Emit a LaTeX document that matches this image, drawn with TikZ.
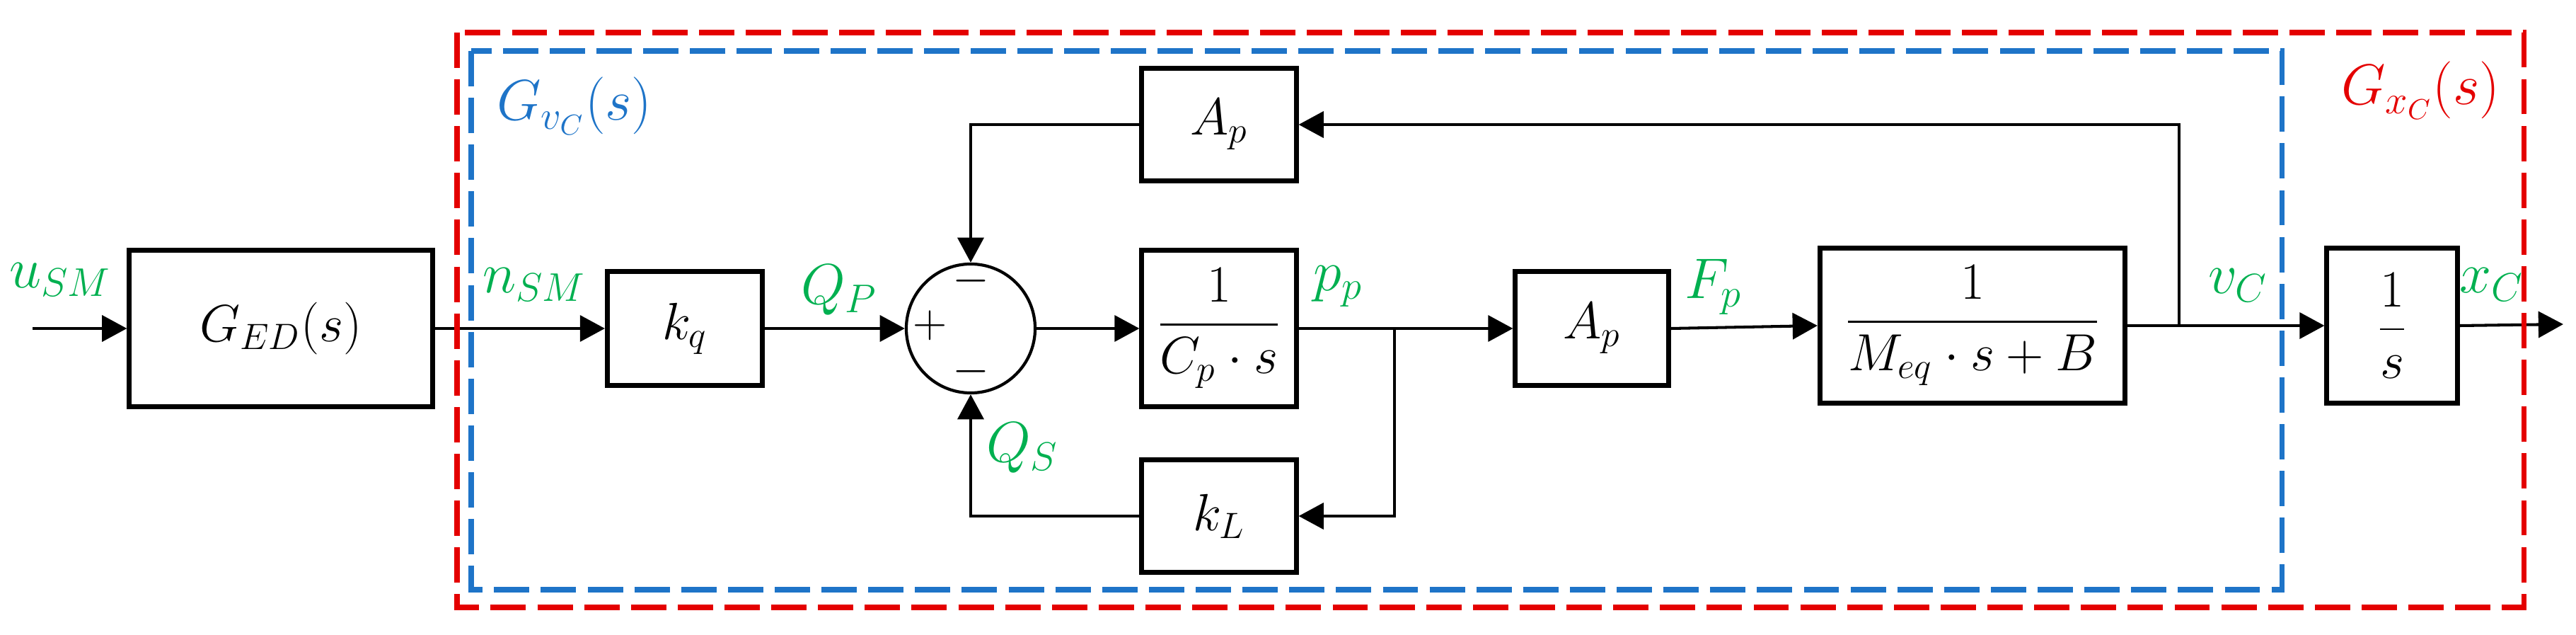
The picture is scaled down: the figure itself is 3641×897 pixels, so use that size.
\RequirePackage{fix-cm}
\documentclass[tikz,border=0pt]{standalone}
\usepackage{amsmath}
\usetikzlibrary{arrows.meta,calc}
\definecolor{lblgreen}{RGB}{0,176,80}
\definecolor{boxred}{RGB}{228,0,0}
\definecolor{boxblue}{RGB}{30,116,200}
\begin{document}
\begin{tikzpicture}[x=0.01cm,y=-0.01cm,
  blk/.style={draw, line width=2pt, inner sep=0pt, font=\fontsize{21}{25}\selectfont},
  sumnode/.style={draw, circle, line width=1.2pt, minimum size=1.82cm, inner sep=0pt},
  sig/.style={font=\fontsize{23}{27}\selectfont, text=lblgreen, inner sep=0pt},
  conn/.style={line width=1.15pt, -{Triangle[length=10pt,width=10.5pt]}},
  sgn/.style={font=\fontsize{19}{22}\selectfont, inner sep=0pt},
  grp/.style={line width=2pt, dash pattern=on 14.2pt off 4.6pt},
  grplbl/.style={font=\fontsize{23}{27}\selectfont, inner sep=0pt}
  ]
\useasboundingbox (0,0) rectangle (3641,897);

% blocks
\node[blk, minimum width=4.28cm, minimum height=2.2cm] (ged) at (397,464) {$G_{ED}(s)$};
\node[blk, minimum width=2.19cm, minimum height=1.6cm] (kq) at (968,464) {$k_q$};
\node[sumnode] (sum) at (1372,464) {};
\node[blk, minimum width=2.18cm, minimum height=1.58cm] (apt) at (1723,176) {$A_p$};
\node[blk, minimum width=2.18cm, minimum height=2.2cm] (cps) at (1723,464) {$\dfrac{1}{C_p\cdot s}$};
\node[blk, minimum width=2.18cm, minimum height=1.59cm] (kl) at (1723,729) {$k_L$};
\node[blk, minimum width=2.16cm, minimum height=1.61cm] (apm) at (2250,464) {$A_p$};
\node[blk, minimum width=4.31cm, minimum height=2.19cm] (meq) at (2788,460) {$\dfrac{1}{M_{eq}\cdot s+B}$};
\node[blk, minimum width=1.84cm, minimum height=2.19cm] (ones) at (3381,460) {$\dfrac{1}{s}$};

% signs in summing junction
\node[sgn] (sgt) at (1372,397) {$-$};
\node[sgn] (sgb) at (1372,525) {$-$};
\node[sgn] (sgp) at (1315,460) {$+$};

% coordinates
\coordinate (in) at (46,464);
\coordinate (b1) at (1971,464);
\coordinate (b2) at (3080,460);
\coordinate (out) at (3623,458);

% connectors
\draw[conn] (in) -- (ged.west);
\draw[conn] (ged.east) -- (kq.west);
\draw[conn] (kq.east) -- (sum.west);
\draw[conn] (sum.east) -- (cps.west);
\draw[conn] (cps.east) -- (apm.west);
\draw[conn] (b1) |- (kl.east);
\draw[conn] (kl.west) -| (sum.south);
\draw[conn] (apt.west) -| (sum.north);
\draw[conn] (apm.east) -- (meq.west);
\draw[conn] (meq.east) -- (ones.west);
\draw[conn] (b2) |- (apt.east);
\draw[conn] (ones.east) -- (out);

% signal labels
\node[sig] (usm) at (85,395) {$u_{SM}$};
\node[sig] (nsm) at (755,402) {$n_{SM}$};
\node[sig] (qp) at (1186,410) {$Q_P$};
\node[sig] (qs) at (1445,633) {$Q_S$};
\node[sig] (pp) at (1891,405) {$p_p$};
\node[sig] (fp) at (2422,405) {$F_p$};
\node[sig] (vc) at (3163,403) {$v_C$};
\node[sig] (xc) at (3522,402) {$x_C$};

% group frames
\draw[grp, boxred] (646,46) rectangle (3567,858);
\draw[grp, boxblue] (666,72) rectangle (3225,833);
\node[grplbl, text=boxblue] (gvc) at (812,150) {$G_{v_C}(s)$};
\node[grplbl, text=boxred] (gxc) at (3421,128) {$G_{x_C}(s)$};
\end{tikzpicture}
\end{document}
